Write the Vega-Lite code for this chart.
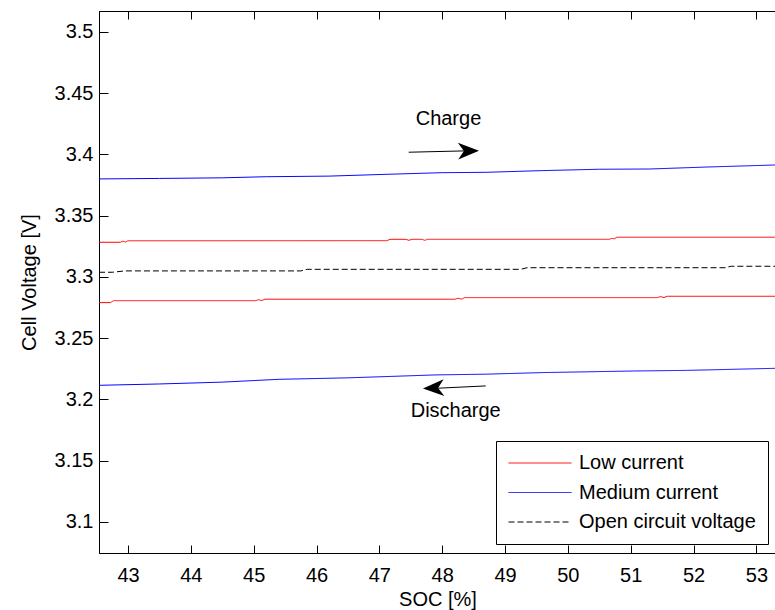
{
  "$schema": "https://vega.github.io/schema/vega-lite/v6.json",
  "autosize": {"type": "none"},
  "padding": {"left": 99, "top": 11, "right": 0, "bottom": 57},
  "width": 677,
  "height": 542,
  "background": "#ffffff",
  "config": {
    "font": "Liberation Sans",
    "view": {"stroke": "#000000", "strokeWidth": 1},
    "axis": {
      "grid": false,
      "domainColor": "#000000",
      "tickColor": "#000000",
      "labelColor": "#000000",
      "titleColor": "#000000",
      "labelFontSize": 20,
      "titleFontSize": 20,
      "titleFontWeight": "normal",
      "labelFont": "Liberation Sans",
      "titleFont": "Liberation Sans",
      "labelFlush": false,
      "labelOverlap": false
    },
    "legend": {
      "strokeColor": "#000000",
      "fillColor": "#ffffff",
      "padding": 12,
      "symbolType": "stroke",
      "symbolSize": 3969,
      "clipHeight": 20,
      "symbolStrokeWidth": 1,
      "labelFontSize": 20,
      "labelFont": "Liberation Sans",
      "labelColor": "#000000",
      "labelOffset": 7,
      "rowPadding": 9.5,
      "labelLimit": 400
    }
  },
  "datasets": {
    "curves": [
      {"soc": 42.5385, "v": 3.3282, "series": "Low current", "branch": "low_charge"},
      {"soc": 42.88, "v": 3.3282, "series": "Low current", "branch": "low_charge"},
      {"soc": 42.92, "v": 3.3291, "series": "Low current", "branch": "low_charge"},
      {"soc": 42.96, "v": 3.3284, "series": "Low current", "branch": "low_charge"},
      {"soc": 43.0, "v": 3.3294, "series": "Low current", "branch": "low_charge"},
      {"soc": 47.12, "v": 3.3295, "series": "Low current", "branch": "low_charge"},
      {"soc": 47.17, "v": 3.3306, "series": "Low current", "branch": "low_charge"},
      {"soc": 47.42, "v": 3.3306, "series": "Low current", "branch": "low_charge"},
      {"soc": 47.47, "v": 3.3298, "series": "Low current", "branch": "low_charge"},
      {"soc": 47.52, "v": 3.3306, "series": "Low current", "branch": "low_charge"},
      {"soc": 47.68, "v": 3.3306, "series": "Low current", "branch": "low_charge"},
      {"soc": 47.72, "v": 3.3298, "series": "Low current", "branch": "low_charge"},
      {"soc": 47.77, "v": 3.3306, "series": "Low current", "branch": "low_charge"},
      {"soc": 50.66, "v": 3.3306, "series": "Low current", "branch": "low_charge"},
      {"soc": 50.70, "v": 3.3314, "series": "Low current", "branch": "low_charge"},
      {"soc": 50.74, "v": 3.3310, "series": "Low current", "branch": "low_charge"},
      {"soc": 50.78, "v": 3.3323, "series": "Low current", "branch": "low_charge"},
      {"soc": 53.312, "v": 3.3323, "series": "Low current", "branch": "low_charge"},

      {"soc": 42.5385, "v": 3.2789, "series": "Low current", "branch": "low_discharge"},
      {"soc": 42.72, "v": 3.2789, "series": "Low current", "branch": "low_discharge"},
      {"soc": 42.77, "v": 3.2805, "series": "Low current", "branch": "low_discharge"},
      {"soc": 45.03, "v": 3.2805, "series": "Low current", "branch": "low_discharge"},
      {"soc": 45.08, "v": 3.2813, "series": "Low current", "branch": "low_discharge"},
      {"soc": 45.13, "v": 3.2806, "series": "Low current", "branch": "low_discharge"},
      {"soc": 45.18, "v": 3.2817, "series": "Low current", "branch": "low_discharge"},
      {"soc": 48.2, "v": 3.2817, "series": "Low current", "branch": "low_discharge"},
      {"soc": 48.25, "v": 3.2825, "series": "Low current", "branch": "low_discharge"},
      {"soc": 48.31, "v": 3.2818, "series": "Low current", "branch": "low_discharge"},
      {"soc": 48.36, "v": 3.2830, "series": "Low current", "branch": "low_discharge"},
      {"soc": 51.42, "v": 3.2830, "series": "Low current", "branch": "low_discharge"},
      {"soc": 51.47, "v": 3.2838, "series": "Low current", "branch": "low_discharge"},
      {"soc": 51.53, "v": 3.2831, "series": "Low current", "branch": "low_discharge"},
      {"soc": 51.58, "v": 3.2841, "series": "Low current", "branch": "low_discharge"},
      {"soc": 53.312, "v": 3.2841, "series": "Low current", "branch": "low_discharge"},

      {"soc": 42.5385, "v": 3.3799, "series": "Medium current", "branch": "med_charge"},
      {"soc": 43.5, "v": 3.3803, "series": "Medium current", "branch": "med_charge"},
      {"soc": 44.5, "v": 3.3808, "series": "Medium current", "branch": "med_charge"},
      {"soc": 45.2, "v": 3.3817, "series": "Medium current", "branch": "med_charge"},
      {"soc": 46.2, "v": 3.3822, "series": "Medium current", "branch": "med_charge"},
      {"soc": 47.2, "v": 3.3838, "series": "Medium current", "branch": "med_charge"},
      {"soc": 48.0, "v": 3.3850, "series": "Medium current", "branch": "med_charge"},
      {"soc": 48.7, "v": 3.3853, "series": "Medium current", "branch": "med_charge"},
      {"soc": 49.6, "v": 3.3867, "series": "Medium current", "branch": "med_charge"},
      {"soc": 50.5, "v": 3.3878, "series": "Medium current", "branch": "med_charge"},
      {"soc": 51.3, "v": 3.3880, "series": "Medium current", "branch": "med_charge"},
      {"soc": 52.2, "v": 3.3896, "series": "Medium current", "branch": "med_charge"},
      {"soc": 53.312, "v": 3.3913, "series": "Medium current", "branch": "med_charge"},

      {"soc": 42.5385, "v": 3.2114, "series": "Medium current", "branch": "med_discharge"},
      {"soc": 43.5, "v": 3.2125, "series": "Medium current", "branch": "med_discharge"},
      {"soc": 44.5, "v": 3.2140, "series": "Medium current", "branch": "med_discharge"},
      {"soc": 45.4, "v": 3.2163, "series": "Medium current", "branch": "med_discharge"},
      {"soc": 46.5, "v": 3.2175, "series": "Medium current", "branch": "med_discharge"},
      {"soc": 47.9, "v": 3.2199, "series": "Medium current", "branch": "med_discharge"},
      {"soc": 48.7, "v": 3.2205, "series": "Medium current", "branch": "med_discharge"},
      {"soc": 49.6, "v": 3.2218, "series": "Medium current", "branch": "med_discharge"},
      {"soc": 51.06, "v": 3.2231, "series": "Medium current", "branch": "med_discharge"},
      {"soc": 51.9, "v": 3.2236, "series": "Medium current", "branch": "med_discharge"},
      {"soc": 53.312, "v": 3.2253, "series": "Medium current", "branch": "med_discharge"},

      {"soc": 42.5385, "v": 3.3037, "series": "Open circuit voltage", "branch": "ocv"},
      {"soc": 42.75, "v": 3.3037, "series": "Open circuit voltage", "branch": "ocv"},
      {"soc": 42.95, "v": 3.3048, "series": "Open circuit voltage", "branch": "ocv"},
      {"soc": 45.75, "v": 3.3048, "series": "Open circuit voltage", "branch": "ocv"},
      {"soc": 45.85, "v": 3.3061, "series": "Open circuit voltage", "branch": "ocv"},
      {"soc": 49.25, "v": 3.3061, "series": "Open circuit voltage", "branch": "ocv"},
      {"soc": 49.35, "v": 3.3074, "series": "Open circuit voltage", "branch": "ocv"},
      {"soc": 52.5, "v": 3.3074, "series": "Open circuit voltage", "branch": "ocv"},
      {"soc": 52.6, "v": 3.3086, "series": "Open circuit voltage", "branch": "ocv"},
      {"soc": 53.312, "v": 3.3086, "series": "Open circuit voltage", "branch": "ocv"}
    ],
    "shafts": [
      {"arrow": "charge", "soc": 47.467, "v": 3.4017},
      {"arrow": "charge", "soc": 48.45, "v": 3.4029},
      {"arrow": "discharge", "soc": 48.692, "v": 3.2109},
      {"arrow": "discharge", "soc": 47.83, "v": 3.2088}
    ],
    "headCharge": [{"soc": 48.586, "v": 3.4030}],
    "headDischarge": [{"soc": 47.694, "v": 3.2087}],
    "labels": [
      {"text": "Charge", "soc": 48.10, "v": 3.4288},
      {"text": "Discharge", "soc": 48.215, "v": 3.1905}
    ]
  },
  "encoding": {
    "y": {
      "field": "v", "type": "quantitative",
      "scale": {"domain": [3.0745, 3.517], "nice": false, "zero": false},
      "axis": {
        "orient": "left",
        "values": [3.1, 3.15, 3.2, 3.25, 3.3, 3.35, 3.4, 3.45, 3.5],
        "format": ".2~f",
        "tickSize": -9,
        "labelPadding": 15,
        "title": "Cell Voltage [V]",
        "titlePadding": 15
      }
    }
  },
  "layer": [
    {
      "encoding": {
        "x": {
          "field": "soc", "type": "quantitative",
          "scale": {"domain": [42.5385, 53.312], "nice": false, "zero": false},
          "axis": {
            "orient": "bottom",
            "values": [43, 44, 45, 46, 47, 48, 49, 50, 51, 52, 53],
            "format": "d",
            "tickSize": -8,
            "labelPadding": 20,
            "title": "SOC [%]",
            "titlePadding": 4
          }
        }
      },
      "layer": [
        {
          "data": {"name": "curves"},
          "mark": {"type": "line", "strokeWidth": 1, "clip": true},
          "encoding": {
            "color": {
              "field": "series", "type": "nominal",
              "scale": {"domain": ["Low current", "Medium current", "Open circuit voltage"], "range": ["#ff0000", "#0000ff", "#000000"]},
              "legend": {"title": null, "orient": "none", "legendX": 397, "legendY": 430}
            },
            "strokeDash": {
              "field": "series", "type": "nominal",
              "scale": {"domain": ["Low current", "Medium current", "Open circuit voltage"], "range": [[1, 0], [1, 0], [6, 3]]},
              "legend": {"title": null, "orient": "none", "legendX": 397, "legendY": 430}
            },
            "detail": {"field": "branch"}
          }
        },
        {
          "data": {"name": "headCharge"},
          "mark": {"type": "point", "shape": "M 0 0 L -1 -0.4 L -0.72 0 L -1 0.4 Z", "size": 1764, "filled": true, "color": "#000000", "opacity": 1, "strokeWidth": 0, "angle": -1.3}
        },
        {
          "data": {"name": "headDischarge"},
          "mark": {"type": "point", "shape": "M 0 0 L -1 -0.4 L -0.72 0 L -1 0.4 Z", "size": 1764, "filled": true, "color": "#000000", "opacity": 1, "strokeWidth": 0, "angle": 177.5}
        },
        {
          "data": {"name": "labels"},
          "mark": {"type": "text", "fontSize": 20, "font": "Liberation Sans", "align": "center", "baseline": "middle", "color": "#000000"},
          "encoding": {"text": {"field": "text"}}
        }
      ]
    },
    {
      "data": {"name": "shafts"},
      "mark": {"type": "line", "color": "#000000", "strokeWidth": 1},
      "encoding": {
        "x": {
          "field": "soc", "type": "quantitative",
          "scale": {"domain": [42.5385, 53.312], "nice": false, "zero": false},
          "axis": {
            "orient": "top",
            "values": [43, 44, 45, 46, 47, 48, 49, 50, 51, 52, 53],
            "labels": false,
            "title": null,
            "tickSize": -8
          }
        },
        "detail": {"field": "arrow"}
      }
    }
  ],
  "resolve": {"axis": {"x": "independent"}}
}
